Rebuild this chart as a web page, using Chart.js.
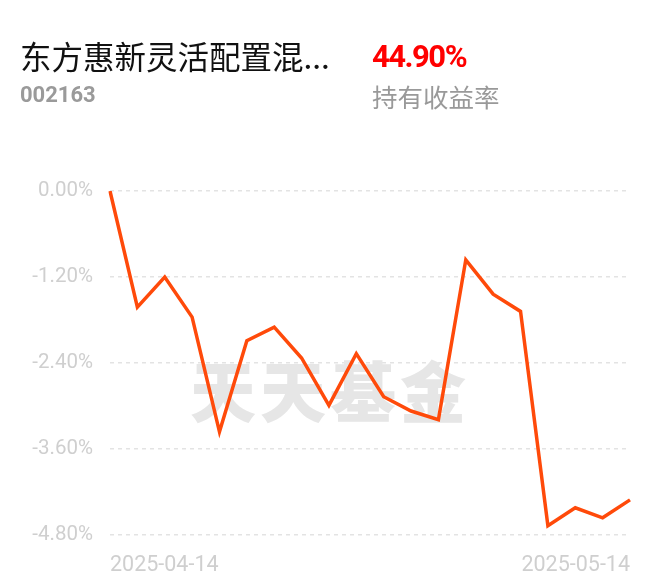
<!DOCTYPE html>
<html lang="zh">
<head>
  <meta charset="UTF-8" />
  <title>东方惠新灵活配置混合 - 持有收益率</title>
  <script src="https://cdn.jsdelivr.net/npm/chart.js"></script>
  <style>
    body { margin: 0; width: 660px; height: 585px; background: #fff; position: relative; overflow: hidden; font-family: "Noto Sans CJK SC", Roboto, sans-serif; }
    .abs { position: absolute; white-space: nowrap; line-height: 1; }
    #title { left: 20px; top: 40px; font-size: 31.5px; color: #111; }
    #code { left: 20px; top: 84px; font-size: 22px; font-weight: bold; color: #9a9a9a; font-family: Roboto, sans-serif; }
    #rate { left: 372px; top: 41px; font-size: 31px; font-weight: bold; color: #f00; font-family: Roboto, sans-serif; letter-spacing: -1.5px; }
    #rateLabel { left: 372px; top: 83px; font-size: 25.5px; color: #999; }
    #wrap { position: absolute; left: 0; top: 0; width: 660px; height: 585px; }
  </style>
</head>
<body>
  <div id="wrap"><canvas id="chart"></canvas></div>
  <div class="abs" id="title">东方惠新灵活配置混...</div>
  <div class="abs" id="code">002163</div>
  <div class="abs" id="rate">44.90%</div>
  <div class="abs" id="rateLabel">持有收益率</div>

  <script>
    // trading days shown in the chart
    const dates = [
      "2025-04-14", "2025-04-15", "2025-04-16", "2025-04-17", "2025-04-18",
      "2025-04-21", "2025-04-22", "2025-04-23", "2025-04-24", "2025-04-25",
      "2025-04-28", "2025-04-29", "2025-04-30", "2025-05-06", "2025-05-07",
      "2025-05-08", "2025-05-09", "2025-05-12", "2025-05-13", "2025-05-14"
    ];
    // cumulative return, %
    const returns = [
      0.00, -1.62, -1.20, -1.76, -3.36,
      -2.09, -1.90, -2.33, -2.99, -2.27,
      -2.87, -3.07, -3.19, -0.96, -1.44,
      -1.68, -4.67, -4.42, -4.56, -4.31
    ];
    const yTicks = [0, -1.2, -2.4, -3.6, -4.8];

    const watermark = {
      id: "watermark",
      beforeDatasetsDraw(chart) {
        const ctx = chart.ctx;
        ctx.save();
        ctx.font = "900 66px 'Noto Sans CJK SC'";
        ctx.fillStyle = "#e6e6e6";
        ctx.textAlign = "center";
        ctx.textBaseline = "middle";
        ctx.letterSpacing = "4px";
        ctx.fillText("天天基金", chart.width / 2, 392);
        ctx.restore();
      }
    };

    new Chart(document.getElementById("chart"), {
      type: "line",
      data: {
        labels: dates,
        datasets: [{
          data: returns,
          borderColor: "#ff4a0a",
          borderWidth: 3.5,
          pointRadius: 0,
          tension: 0,
          fill: false
        }]
      },
      options: {
        responsive: true,
        maintainAspectRatio: false,
        animation: false,
        events: [],
        layout: { padding: { top: 191, right: 30, bottom: 0, left: 0 } },
        plugins: { legend: { display: false }, tooltip: { enabled: false } },
        scales: {
          x: {
            grid: { display: false },
            border: { display: false },
            afterFit: s => { s.height = 50; },
            ticks: {
              autoSkip: false,
              maxRotation: 0,
              align: "inner",
              padding: 10,
              color: "#cfcfcf",
              font: { family: "Roboto", size: 21.5 },
              callback: (v, i) => (i === 0 || i === dates.length - 1) ? dates[i] : ""
            }
          },
          y: {
            min: -4.8,
            max: 0,
            afterFit: s => { s.width = 110; },
            afterBuildTicks: s => { s.ticks = yTicks.map(v => ({ value: v })); },
            grid: {
              drawTicks: false,
              color: "#e3e3e3",
              lineWidth: 1.5
            },
            border: { display: false, dash: [4, 4] },
            ticks: {
              padding: 17,
              color: "#cfcfcf",
              font: { family: "Roboto", size: 20.5 },
              callback: v => v.toFixed(2) + "%"
            }
          }
        }
      },
      plugins: [watermark]
    });
  </script>
</body>
</html>
